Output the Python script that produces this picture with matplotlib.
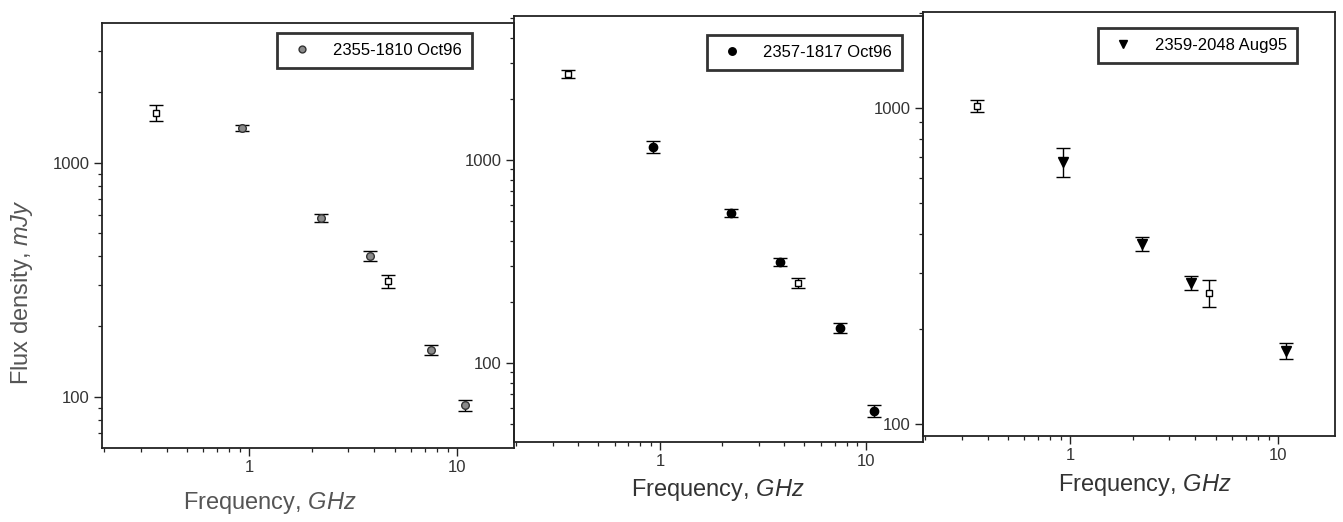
import matplotlib
matplotlib.use("Agg")
import matplotlib.pyplot as plt
from matplotlib.lines import Line2D
from matplotlib.ticker import FixedLocator, LogLocator, NullFormatter, FuncFormatter

plt.rcParams['font.family'] = ['Liberation Sans', 'DejaVu Sans']
plt.rcParams['mathtext.fontset'] = 'custom'
plt.rcParams['mathtext.it'] = 'Liberation Sans:italic'
plt.rcParams['mathtext.rm'] = 'Liberation Sans'

# ---- data (GHz, mJy) ----
p1_names = "2355-1810 Oct96"
p1_open_f = [0.355, 4.65]
p1_open_s = [1636, 313]
p1_open_e = [130, 20]
p1_f = [0.92, 2.2, 3.8, 7.45, 10.9]
p1_s = [1411, 582, 401, 159, 92]
p1_e = [40, 25, 20, 8, 5]

p2_names = "2357-1817 Oct96"
p2_open_f = [0.355, 4.65]
p2_open_s = [2656, 248]
p2_open_e = [110, 15]
p2_f = [0.92, 2.2, 3.8, 7.45, 10.9]
p2_s = [1159, 548, 315, 149, 58]
p2_e = [80, 25, 15, 8, 4]

p3_names = "2359-2048 Aug95"
p3_open_f = [0.355, 4.65]
p3_open_s = [1015, 260]
p3_open_e = [45, 25]
p3_f = [0.92, 2.2, 3.8, 10.9]
p3_s = [675, 372, 280, 170]
p3_e = [70, 20, 15, 10]

W, H = 1343, 522
fig = plt.figure(figsize=(W / 100, H / 100), dpi=100)

def ax_at(l, r, t, b):
    return fig.add_axes([l / W, 1 - b / H, (r - l) / W, (b - t) / H])

panels = [
    dict(box=(102, 514, 23, 448), ylim=(60.5, 3960), leg=(0.898, 0.976),
         name=p1_names, of=p1_open_f, os=p1_open_s, oe=p1_open_e,
         f=p1_f, s=p1_s, e=p1_e, marker='o', mfc='#8a8a8a', mec='#333333', ms=5.5),
    dict(box=(514, 923, 16, 442), ylim=(40.8, 5120), leg=(0.949, 0.955),
         name=p2_names, of=p2_open_f, os=p2_open_s, oe=p2_open_e,
         f=p2_f, s=p2_s, e=p2_e, marker='o', mfc='black', mec='black', ms=6),
    dict(box=(923, 1335, 12, 436), ylim=(91.6, 2013), leg=(0.908, 0.962),
         name=p3_names, of=p3_open_f, os=p3_open_s, oe=p3_open_e,
         f=p3_f, s=p3_s, e=p3_e, marker='v', mfc='black', mec='black', ms=7),
]

axes = []
for p in panels:
    ax = ax_at(*p['box'])
    ax.set_xscale('log')
    ax.set_yscale('log')
    ax.set_xlim(0.195, 18.8)
    ax.set_ylim(*p['ylim'])
    ax.errorbar(p['of'], p['os'], yerr=p['oe'], fmt='s', ms=4.5, mfc='white',
                mec='black', mew=1.0, ecolor='black', elinewidth=1.0,
                capsize=5, capthick=1.2, zorder=3)
    ax.errorbar(p['f'], p['s'], yerr=p['e'], fmt=p['marker'], ms=p['ms'],
                mfc=p['mfc'], mec=p['mec'], mew=1.0, ecolor='black',
                elinewidth=1.0, capsize=5, capthick=1.5, zorder=3)
    ax.xaxis.set_major_locator(FixedLocator([1, 10]))
    ax.xaxis.set_minor_locator(LogLocator(base=10, subs=range(2, 10)))
    ax.yaxis.set_major_locator(FixedLocator([100, 1000]))
    ax.yaxis.set_minor_locator(LogLocator(base=10, subs=range(2, 10)))
    fmt = FuncFormatter(lambda v, pos: f"{int(round(v))}")
    ax.xaxis.set_major_formatter(fmt)
    ax.yaxis.set_major_formatter(fmt)
    ax.xaxis.set_minor_formatter(NullFormatter())
    ax.yaxis.set_minor_formatter(NullFormatter())
    ax.tick_params(which='major', direction='out', length=6, width=1.0,
                   labelsize=12, labelcolor='#333333', pad=3, color='#222222')
    ax.tick_params(which='minor', direction='out', length=3, width=0.9,
                   color='#222222')
    for sp in ax.spines.values():
        sp.set_linewidth(1.3)
        sp.set_color('#222222')
    ax.patch.set_alpha(0)
    h = Line2D([], [], linestyle='none', marker=p['marker'], ms=p['ms'] * 0.9,
               mfc=p['mfc'], mec=p['mec'])
    leg = ax.legend([h], [p['name']], loc='upper right',
                    bbox_to_anchor=p['leg'], frameon=True, fancybox=False,
                    fontsize=12, borderpad=0.6, handletextpad=1.0,
                    handlelength=1.8, borderaxespad=0)
    leg.get_frame().set_edgecolor('black')
    leg.get_frame().set_linewidth(2.0)
    axes.append(ax)

fig.text(270 / W, 1 - 503 / H, "Frequency, $\\mathit{GHz}$", ha='center',
         va='center', fontsize=17, color='#555555')
fig.text(718 / W, 1 - 490 / H, "Frequency, $\\mathit{GHz}$", ha='center',
         va='center', fontsize=17, color='#333333')
fig.text(1145 / W, 1 - 485 / H, "Frequency, $\\mathit{GHz}$", ha='center',
         va='center', fontsize=17, color='#333333')
fig.text(22 / W, 1 - 292 / H, "Flux density, $\\mathit{mJy}$", ha='center',
         va='center', rotation=90, fontsize=17, color='#555555')

fig.savefig('out.png', dpi=100)
